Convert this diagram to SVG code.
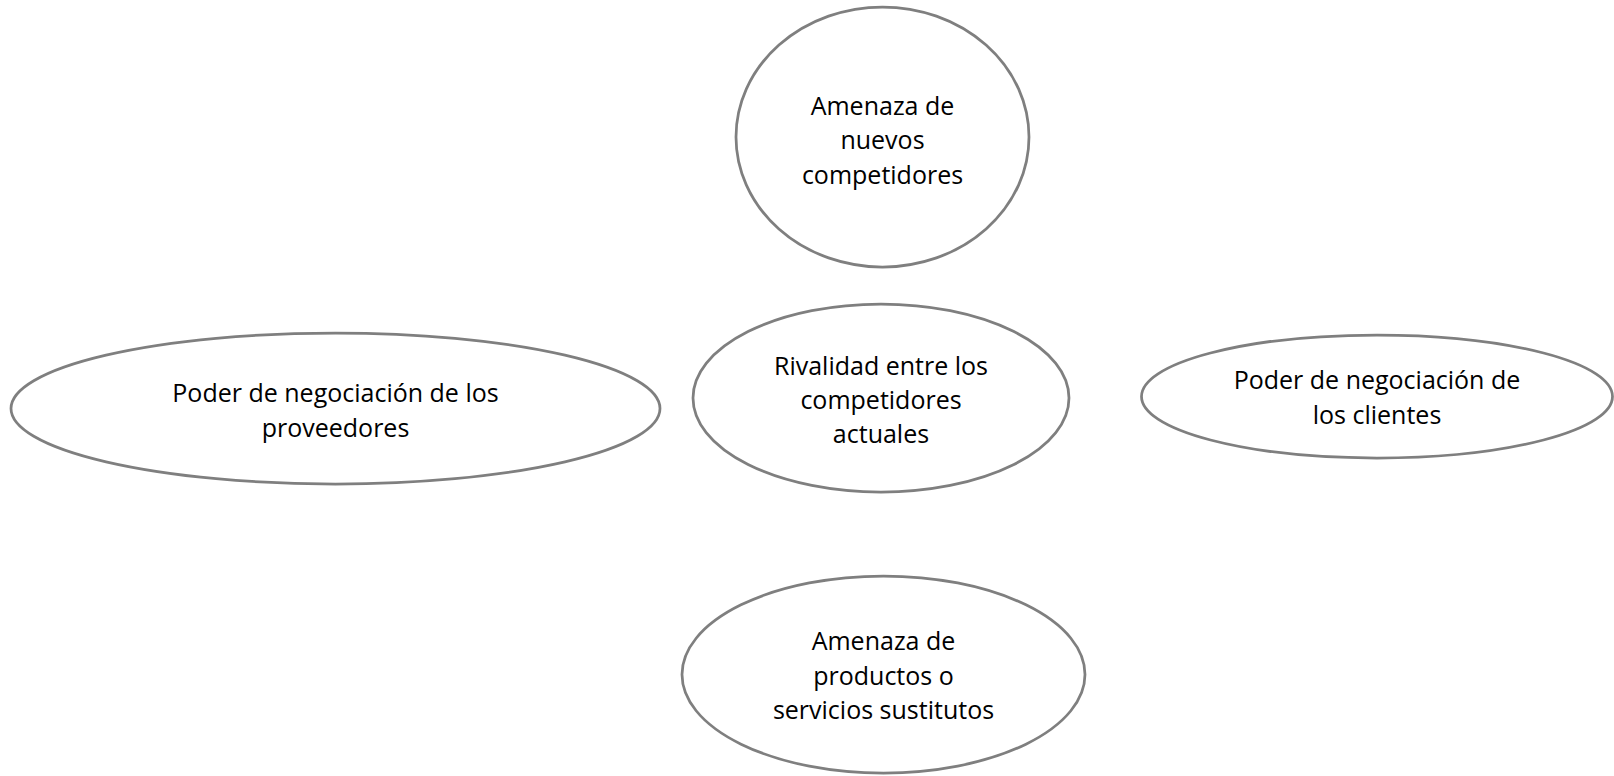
<svg xmlns="http://www.w3.org/2000/svg" width="1614" height="776" viewBox="0 0 1614 776">
<style>
.n{fill:#ffffff;stroke:#7f7f7f;stroke-width:2.75}
.t{font-family:"Open Sans","Liberation Sans",sans-serif;font-size:25px;fill:#000000;text-anchor:middle}
</style>
<rect width="1614" height="776" fill="#ffffff"/>
<g id="connectors"></g>
<g id="node-nuevos">
<ellipse class="n" cx="882.5" cy="137" rx="146.5" ry="130"/>
<text class="t" x="882.5" y="115">Amenaza de</text>
<text class="t" x="882.5" y="149">nuevos</text>
<text class="t" x="882.5" y="184">competidores</text>
</g>
<g id="node-rivalidad">
<ellipse class="n" cx="881" cy="398" rx="188" ry="94"/>
<text class="t" x="881" y="375">Rivalidad entre los</text>
<text class="t" x="881" y="409">competidores</text>
<text class="t" x="881" y="443">actuales</text>
</g>
<g id="node-proveedores">
<ellipse class="n" cx="335.5" cy="408.5" rx="324.5" ry="75.5"/>
<text class="t" x="335.5" y="402">Poder de negociación de los</text>
<text class="t" x="335.5" y="437">proveedores</text>
</g>
<g id="node-clientes">
<ellipse class="n" cx="1377" cy="396.5" rx="235.5" ry="61.5"/>
<text class="t" x="1377" y="389">Poder de negociación de</text>
<text class="t" x="1377" y="424">los clientes</text>
</g>
<g id="node-sustitutos">
<ellipse class="n" cx="883.5" cy="674.5" rx="201.5" ry="98.5"/>
<text class="t" x="883.5" y="650">Amenaza de</text>
<text class="t" x="883.5" y="685">productos o</text>
<text class="t" x="883.5" y="719">servicios sustitutos</text>
</g>
</svg>
